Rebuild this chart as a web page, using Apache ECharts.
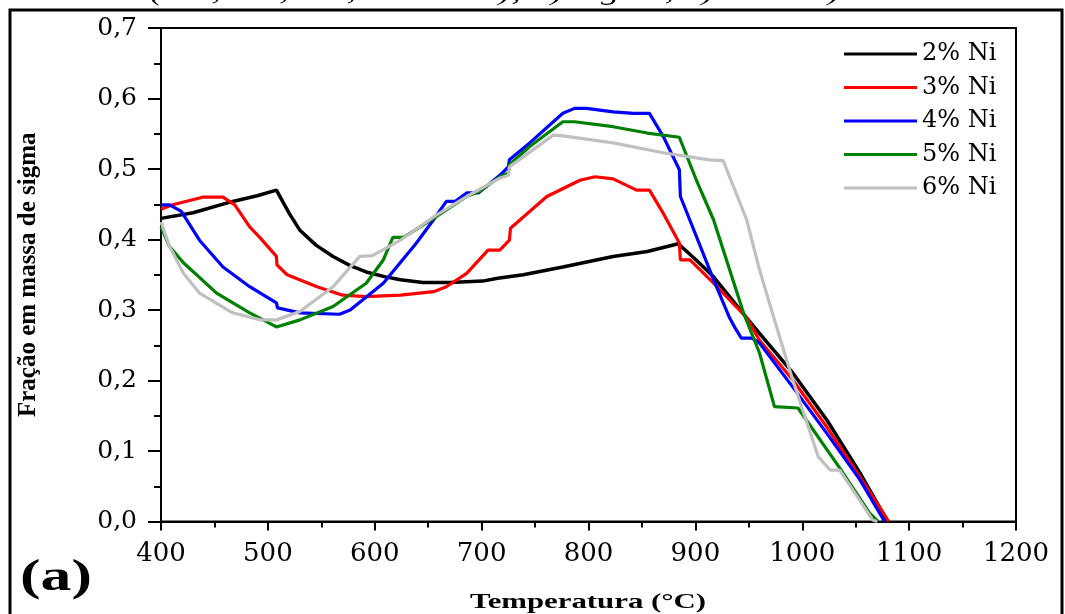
<!DOCTYPE html>
<html>
<head>
<meta charset="utf-8">
<script src="https://cdn.jsdelivr.net/npm/echarts@6/dist/echarts.min.js"></script>
<style>
html,body{margin:0;padding:0;background:#fff;}
#chart{width:1065px;height:614px;}
</style>
</head>
<body>
<div id="chart"></div>
<script>
const seriesNames = ['2% Ni', '3% Ni', '4% Ni', '5% Ni', '6% Ni'];
const xTicks = [400, 500, 600, 700, 800, 900, 1000, 1100, 1200];
const yTicks = [0.0, 0.1, 0.2, 0.3, 0.4, 0.5, 0.6, 0.7];

const temps2 = [400, 430, 467, 490, 508, 520, 530, 545, 561, 577, 592, 610, 624, 645, 670, 701, 715, 739, 776, 823, 855, 884, 900, 917, 948, 960, 991, 1023, 1054, 1080];
const frac2  = [0.430, 0.438, 0.454, 0.462, 0.470, 0.437, 0.413, 0.392, 0.376, 0.363, 0.354, 0.347, 0.343, 0.339, 0.339, 0.341, 0.345, 0.350, 0.361, 0.376, 0.383, 0.394, 0.372, 0.347, 0.289, 0.267, 0.211, 0.144, 0.069, 0.0];

const temps3 = [400, 410, 439, 458, 469, 483, 493, 508, 508.5, 518, 546, 570, 592, 624, 655, 667, 686, 706, 717, 726, 727, 761, 792, 806, 823, 845, 857, 870, 885, 886, 895, 917, 948, 960, 991, 1023, 1054, 1081];
const frac3  = [0.443, 0.449, 0.460, 0.460, 0.449, 0.418, 0.402, 0.376, 0.364, 0.350, 0.333, 0.321, 0.319, 0.321, 0.326, 0.333, 0.352, 0.385, 0.385, 0.399, 0.416, 0.461, 0.484, 0.489, 0.486, 0.470, 0.470, 0.437, 0.395, 0.371, 0.371, 0.338, 0.289, 0.257, 0.201, 0.134, 0.063, 0.0];

const temps4 = [400, 408, 419, 436, 458, 483, 508, 509, 530, 567, 577, 608, 639, 655, 667, 675, 686, 697, 717, 725, 726, 745, 776, 787, 798, 823, 842, 857, 870, 885, 886, 901, 917, 932, 937, 943, 953, 960, 991, 1023, 1054, 1077];
const frac4  = [0.449, 0.449, 0.440, 0.399, 0.361, 0.333, 0.310, 0.303, 0.296, 0.294, 0.300, 0.338, 0.395, 0.428, 0.454, 0.454, 0.466, 0.466, 0.491, 0.503, 0.513, 0.537, 0.579, 0.586, 0.586, 0.581, 0.579, 0.579, 0.546, 0.499, 0.461, 0.404, 0.343, 0.289, 0.275, 0.260, 0.260, 0.253, 0.191, 0.125, 0.059, 0.0];

const temps5 = [400, 408, 421, 452, 483, 508, 530, 561, 592, 608, 617, 627, 655, 686, 698, 717, 725, 726, 745, 776, 787, 823, 855, 885, 901, 917, 945, 960, 974, 996, 1035, 1063, 1071];
const frac5  = [0.418, 0.390, 0.367, 0.324, 0.296, 0.276, 0.286, 0.305, 0.338, 0.371, 0.403, 0.403, 0.430, 0.461, 0.468, 0.489, 0.494, 0.506, 0.532, 0.567, 0.567, 0.560, 0.551, 0.545, 0.484, 0.428, 0.296, 0.239, 0.163, 0.161, 0.076, 0.012, 0.0];

const temps6 = [400, 408, 421, 436, 467, 493, 508, 530, 561, 586, 598, 624, 655, 686, 717, 725, 726, 767, 776, 823, 870, 913, 926, 948, 960, 972, 991, 1015, 1026, 1035, 1066, 1070];
const frac6  = [0.425, 0.390, 0.352, 0.324, 0.296, 0.286, 0.286, 0.298, 0.333, 0.376, 0.377, 0.399, 0.432, 0.461, 0.487, 0.491, 0.503, 0.548, 0.547, 0.537, 0.523, 0.513, 0.512, 0.428, 0.357, 0.296, 0.201, 0.092, 0.073, 0.073, 0.002, 0.0];

const colors = ['#000000', '#ff0000', '#0000ff', '#008000', '#c0c0c0'];
const widths = [3.5, 3.2, 3.2, 3.2, 3.2];
const allT = [temps2, temps3, temps4, temps5, temps6];
const allF = [frac2, frac3, frac4, frac5, frac6];

const chart = echarts.init(document.getElementById('chart'), null, {renderer: 'canvas'});

const series = seriesNames.map((name, k) => ({
  name: name,
  type: 'line',
  symbol: 'none',
  smooth: false,
  data: allT[k].map((t, i) => [t, allF[k][i]]),
  lineStyle: {color: colors[k], width: widths[k]},
  itemStyle: {color: colors[k]},
  z: 3 + k
}));

const option = {
  animation: false,
  backgroundColor: '#ffffff',
  grid: {
    left: 161, top: 28, width: 855, height: 493.5,
    show: true, borderColor: '#000', borderWidth: 2,
    backgroundColor: 'transparent',
    outerBoundsMode: 'none'
  },
  legend: {
    orient: 'vertical',
    left: 839, top: 37,
    icon: 'rect',
    itemWidth: 73, itemHeight: 3, itemGap: 9.5,
    data: seriesNames,
    textStyle: {fontFamily: 'DejaVu Serif', fontSize: 24, color: '#000', lineHeight: 20}
  },
  xAxis: {
    type: 'value',
    min: xTicks[0], max: xTicks[xTicks.length - 1], interval: 100,
    axisLine: {show: true, onZero: false, lineStyle: {color: '#000', width: 2}},
    axisTick: {show: true, inside: false, length: 9, lineStyle: {color: '#000', width: 2}},
    minorTick: {show: true, splitNumber: 2, length: 6, lineStyle: {color: '#000', width: 2}},
    splitLine: {show: false},
    axisLabel: {
      fontFamily: 'DejaVu Serif', fontSize: 26, color: '#000', margin: 20,
      showMinLabel: true, showMaxLabel: true,
      formatter: v => String(Math.round(v))
    }
  },
  yAxis: {
    type: 'value',
    min: yTicks[0], max: yTicks[yTicks.length - 1], interval: 0.1,
    axisLine: {show: true, onZero: false, lineStyle: {color: '#000', width: 2}},
    axisTick: {show: true, inside: false, length: 13, lineStyle: {color: '#000', width: 2}},
    minorTick: {show: true, splitNumber: 2, length: 7, lineStyle: {color: '#000', width: 2}},
    splitLine: {show: false},
    axisLabel: {
      fontFamily: 'DejaVu Serif', fontSize: 25, color: '#000', margin: 24,
      formatter: v => v.toFixed(1).replace('.', ',')
    },
    name: 'Fração em massa de sigma',
    nameLocation: 'middle',
    nameGap: 120,
    nameRotate: 90,
    nameTextStyle: {fontFamily: 'Liberation Serif', fontWeight: 'bold', fontSize: 25, color: '#000'}
  },
  graphic: [
    {
      type: 'rect', z: -1, silent: true,
      shape: {x: 10, y: 10, width: 1052, height: 640},
      style: {fill: 'none', stroke: '#000', lineWidth: 3}
    },
    {
      type: 'text', x: 150, y: 6, scaleX: 1.42,
      style: {
        text: '(2%, 3%, 4%, 5% e 6%); a) Sigma, b) Chi e c) Austenita',
        font: 'italic 26px "Liberation Serif"', fill: '#000',
        align: 'left', verticalAlign: 'bottom'
      }
    },
    {
      type: 'text', x: 588, y: 602, scaleX: 1.4,
      style: {
        text: 'Temperatura (°C)',
        font: 'bold 22px "Liberation Serif"', fill: '#000',
        align: 'center', verticalAlign: 'middle'
      }
    },
    {
      type: 'text', x: 56, y: 579, scaleX: 1.4,
      style: {
        text: '(a)',
        font: 'bold 44px "Liberation Serif"', fill: '#000',
        align: 'center', verticalAlign: 'middle'
      }
    }
  ],
  series: series
};

chart.setOption(option);
</script>
</body>
</html>
